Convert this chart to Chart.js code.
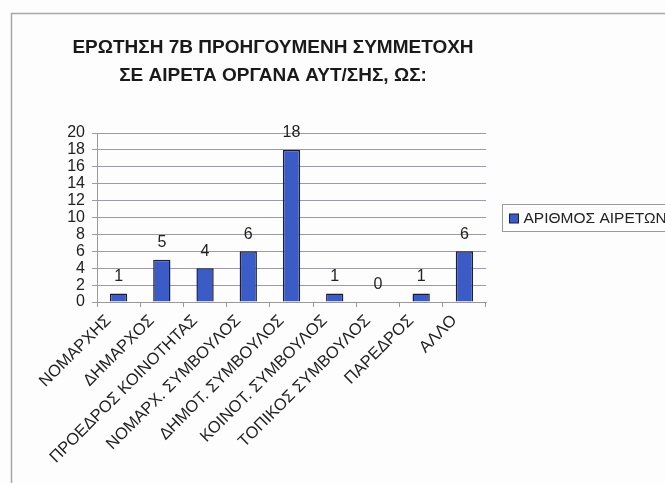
<!DOCTYPE html>
<html>
<head>
<meta charset="utf-8">
<script src="https://cdn.jsdelivr.net/npm/chart.js@4.4.0/dist/chart.umd.min.js"></script>
<style>
  html, body { margin: 0; padding: 0; background: #fff; overflow: hidden; }
  canvas { display: block; }
</style>
</head>
<body>
<canvas id="chart" width="665" height="483"></canvas>
<script>
const titleLines = ['ΕΡΩΤΗΣΗ 7Β ΠΡΟΗΓΟΥΜΕΝΗ ΣΥΜΜΕΤΟΧΗ', 'ΣΕ ΑΙΡΕΤΑ ΟΡΓΑΝΑ ΑΥΤ/ΣΗΣ, ΩΣ:'];
const categories = [
  'ΝΟΜΑΡΧΗΣ', 'ΔΗΜΑΡΧΟΣ', 'ΠΡΟΕΔΡΟΣ ΚΟΙΝΟΤΗΤΑΣ', 'ΝΟΜΑΡΧ. ΣΥΜΒΟΥΛΟΣ',
  'ΔΗΜΟΤ. ΣΥΜΒΟΥΛΟΣ', 'ΚΟΙΝΟΤ. ΣΥΜΒΟΥΛΟΣ', 'ΤΟΠΙΚΟΣ ΣΥΜΒΟΥΛΟΣ', 'ΠΑΡΕΔΡΟΣ', 'ΑΛΛΟ'
];
const seriesName = 'ΑΡΙΘΜΟΣ ΑΙΡΕΤΩΝ';
const values = [1, 5, 4, 6, 18, 1, 0, 1, 6];
const yTicks = [0, 2, 4, 6, 8, 10, 12, 14, 16, 18, 20];

const FONT = "'Liberation Sans', Arial, sans-serif";
const BAR_FILL = '#3b5cc6';
const BAR_EDGE = '#1b1d3d';

// frame lines like the scanned page border
const framePlugin = {
  id: 'frame',
  beforeDraw(chart) {
    const ctx = chart.ctx;
    ctx.save();
    ctx.fillStyle = '#fdfdfd';
    ctx.fillRect(0, 0, chart.width, chart.height);
    ctx.strokeStyle = '#a8a8a8';
    ctx.lineWidth = 1.5;
    ctx.beginPath();
    ctx.moveTo(11.5, chart.height);
    ctx.lineTo(11.5, 13.5);
    ctx.lineTo(chart.width, 13.5);
    ctx.stroke();
    ctx.restore();
  }
};

// value labels above each bar
const valueLabels = {
  id: 'valueLabels',
  afterDatasetsDraw(chart) {
    const ctx = chart.ctx;
    const meta = chart.getDatasetMeta(0);
    ctx.save();
    ctx.font = `16px ${FONT}`;
    ctx.fillStyle = '#222';
    ctx.textAlign = 'center';
    ctx.textBaseline = 'middle';
    meta.data.forEach((bar, i) => {
      ctx.fillText(String(values[i]), bar.x, bar.y - 17);
    });
    ctx.restore();
  }
};

// boxed legend on the right, cut off by the page edge
const sideLegend = {
  id: 'sideLegend',
  afterDraw(chart) {
    const ctx = chart.ctx;
    const x = 502.5, y = 204.5;
    ctx.save();
    ctx.strokeStyle = '#9a9a9a';
    ctx.lineWidth = 1;
    ctx.strokeRect(x, y, 200, 27);
    ctx.fillStyle = BAR_FILL;
    ctx.fillRect(x + 7, y + 9.5, 9, 9);
    ctx.strokeStyle = BAR_EDGE;
    ctx.strokeRect(x + 7, y + 9.5, 9, 9);
    ctx.fillStyle = '#222';
    ctx.font = `15.5px ${FONT}`;
    ctx.textBaseline = 'middle';
    ctx.fillText(chart.data.datasets[0].label, x + 21, y + 14.5);
    ctx.restore();
  }
};

const ctx = document.getElementById('chart').getContext('2d');
new Chart(ctx, {
  type: 'bar',
  data: {
    labels: categories,
    datasets: [{
      label: seriesName,
      data: values,
      backgroundColor: BAR_FILL,
      borderColor: BAR_EDGE,
      borderWidth: 1.5,
      barPercentage: 0.4,
      categoryPercentage: 1
    }]
  },
  options: {
    responsive: false,
    devicePixelRatio: 1,
    animation: false,
    layout: { padding: { left: 60, right: 179, top: 20, bottom: 0 } },
    plugins: {
      legend: { display: false },
      tooltip: { enabled: false },
      title: {
        display: true,
        text: titleLines,
        color: '#1a1a1a',
        font: { family: FONT, size: 19, weight: 'bold', lineHeight: 1.474 },
        padding: { top: 13.5, bottom: 43.5 }
      }
    },
    scales: {
      x: {
        offset: true,
        grid: { display: true, drawOnChartArea: false, drawTicks: true, tickLength: 5, color: '#999' },
        border: { color: '#999' },
        ticks: {
          autoSkip: false,
          maxRotation: 45,
          minRotation: 45,
          padding: 4,
          labelOffset: -10,
          color: '#222',
          font: { family: FONT, size: 16.5 }
        },
        afterFit: scale => { scale.height = 181; }
      },
      y: {
        min: 0,
        max: 20,
        afterBuildTicks: scale => { scale.ticks = yTicks.map(v => ({ value: v })); },
        grid: { color: '#9a9aa8', lineWidth: 1, tickLength: 5 },
        border: { color: '#999' },
        ticks: {
          autoSkip: false,
          padding: 7,
          color: '#222',
          font: { family: FONT, size: 16 }
        },
        afterFit: scale => { scale.width = 37; }
      }
    }
  },
  plugins: [framePlugin, valueLabels, sideLegend]
});
</script>
</body>
</html>
